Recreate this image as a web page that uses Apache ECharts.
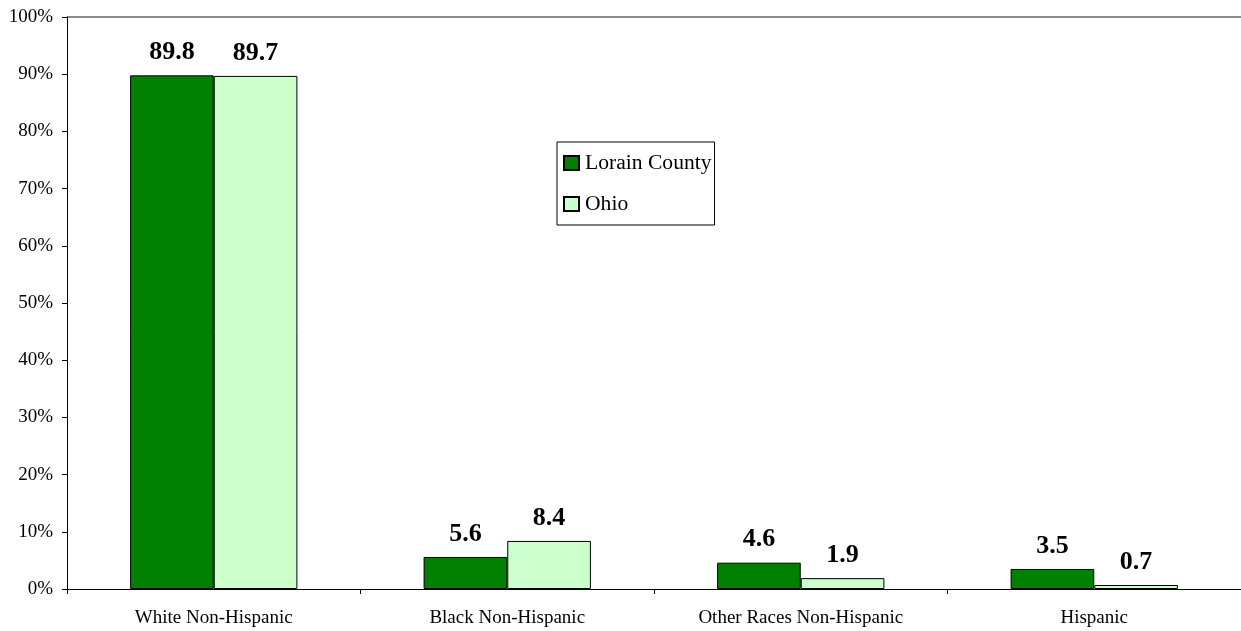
<!DOCTYPE html>
<html>
<head>
<meta charset="utf-8">
<script src="https://cdn.jsdelivr.net/npm/echarts@6/dist/echarts.min.js"></script>
<style>html,body{margin:0;padding:0;background:#fff}#c{width:1241px;height:631px}</style>
</head>
<body>
<div id="c"></div>
<script>
const categories = ['White Non-Hispanic', 'Black Non-Hispanic', 'Other Races Non-Hispanic', 'Hispanic'];
const lorainCounty = [89.8, 5.6, 4.6, 3.5];
const ohio = [89.7, 8.4, 1.9, 0.7];
const seriesNames = ['Lorain County', 'Ohio'];

const font = '"Liberation Serif", "Times New Roman", serif';
const chart = echarts.init(document.getElementById('c'));
const splitColors = [];
for (let i = 0; i < 10; i++) splitColors.push('rgba(0,0,0,0)');
splitColors.push('#8c8c8c');

chart.setOption({
  animation: false,
  textStyle: { fontFamily: font },
  grid: { left: 67, right: 0, top: 17, bottom: 42, containLabel: false },
  legend: {
    orient: 'vertical',
    left: 557, top: 142,
    padding: [10, 3, 10, 6],
    itemGap: 19,
    itemWidth: 15, itemHeight: 14,
    backgroundColor: '#fff',
    borderColor: '#000', borderWidth: 1,
    borderRadius: 0,
    icon: 'rect',
    textStyle: { fontFamily: font, fontSize: 21.6, color: '#000', padding: [0, 0, 0, 1] },
    data: seriesNames
  },
  xAxis: {
    type: 'category',
    data: categories,
    axisLine: { lineStyle: { color: '#000', width: 1 } },
    axisTick: { show: true, length: 5, lineStyle: { color: '#000' } },
    axisLabel: { color: '#000', fontSize: 19, fontFamily: font, margin: 20 }
  },
  yAxis: {
    type: 'value',
    min: 0, max: 100, interval: 10,
    axisLine: { show: true, lineStyle: { color: '#000', width: 1 } },
    axisTick: { show: true, length: 5, lineStyle: { color: '#000' } },
    splitLine: { show: true, lineStyle: { color: splitColors, width: 2 } },
    axisLabel: { color: '#000', fontSize: 19, fontFamily: font, margin: 14, formatter: '{value}%' }
  },
  series: [
    {
      name: seriesNames[0], type: 'bar', data: lorainCounty,
      barGap: '0%', barCategoryGap: '43%',
      itemStyle: { color: '#008000', borderColor: '#000', borderWidth: 1 },
      label: { show: true, position: 'top', distance: 10, color: '#000', fontSize: 26, fontWeight: 'bold', fontFamily: font, formatter: p => p.value.toFixed(1) }
    },
    {
      name: seriesNames[1], type: 'bar', data: ohio,
      itemStyle: { color: '#CCFFCC', borderColor: '#000', borderWidth: 1 },
      label: { show: true, position: 'top', distance: 10, color: '#000', fontSize: 26, fontWeight: 'bold', fontFamily: font, formatter: p => p.value.toFixed(1) }
    }
  ]
});
</script>
</body>
</html>
